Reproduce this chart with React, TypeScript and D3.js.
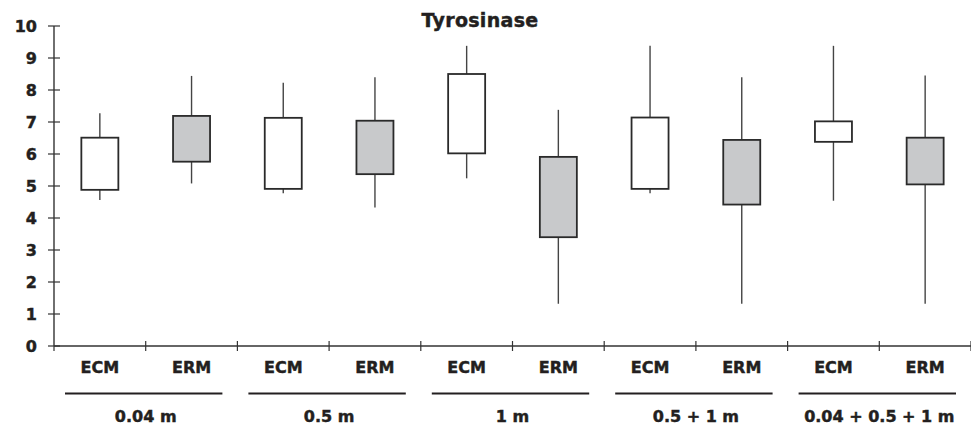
import React from "react";
import * as d3 from "d3";

const groups = ["0.04 m", "0.5 m", "1 m", "0.5 + 1 m", "0.04 + 0.5 + 1 m"];
const types = ["ECM", "ERM"];
const whiskerLow = [4.56, 5.08, 4.77, 4.33, 5.24, 1.32, 4.77, 1.32, 4.54, 1.32];
const boxLow = [4.88, 5.76, 4.91, 5.37, 6.02, 3.4, 4.91, 4.42, 6.38, 5.05];
const boxHigh = [6.51, 7.19, 7.13, 7.04, 8.5, 5.91, 7.14, 6.44, 7.02, 6.51];
const whiskerHigh = [7.27, 8.44, 8.23, 8.4, 9.38, 7.38, 9.38, 8.4, 9.38, 8.45];
const yTicks = [0, 1, 2, 3, 4, 5, 6, 7, 8, 9, 10];

const W = 971;
const H = 427;
const left = 54;
const right = 971;
const top = 26;
const bottom = 346;
const textColor = "#231f20";
const font = "'DejaVu Sans', Verdana, sans-serif";
const textStyle = { stroke: textColor, strokeWidth: 0.45 } as const;

export default function App() {
  const cats: string[] = [];
  groups.forEach((g, gi) => types.forEach((t) => cats.push(`${gi}-${t}`)));
  const x = d3.scaleBand<string>().domain(cats).range([left, right]);
  const y = d3.scaleLinear().domain([0, 10]).range([bottom, top]);
  const bw = 37;

  return (
    <svg width={W} height={H} style={{ position: "absolute", left: 0, top: 0, background: "#fff" }}>
      <text x={480} y={27} textAnchor="middle" fontFamily={font} fontWeight="bold" fontSize={19} fill={textColor} letterSpacing={0.3} style={textStyle}>
        Tyrosinase
      </text>
      {/* y axis */}
      <line x1={left} x2={left} y1={y(10)} y2={y(0)} stroke="#333" strokeWidth={1.4} />
      {yTicks.map((t) => (
        <g key={t}>
          <line x1={left - 6} x2={left + 6} y1={y(t)} y2={y(t)} stroke="#333" strokeWidth={1.2} />
          <text x={37} y={y(t)} dy="0.36em" textAnchor="end" fontFamily={font} fontWeight="bold" fontSize={16} fill={textColor} style={textStyle}>
            {t}
          </text>
        </g>
      ))}
      {/* x axis */}
      <line x1={left} x2={right} y1={y(0)} y2={y(0)} stroke="#333" strokeWidth={1.4} />
      {cats.map((c, i) => (
        <line key={"t" + i} x1={(x(c) as number) + x.bandwidth()} x2={(x(c) as number) + x.bandwidth()} y1={y(0) - 5} y2={y(0) + 5} stroke="#333" strokeWidth={1.2} />
      ))}
      <line x1={left} x2={left} y1={y(0)} y2={y(0) + 5} stroke="#333" strokeWidth={1.2} />
      {cats.map((c, i) => (
        <text key={"l" + i} x={(x(c) as number) + x.bandwidth() / 2} y={367} dy="0.36em" textAnchor="middle" fontFamily={font} fontWeight="bold" fontSize={16} fill={textColor} style={textStyle}>
          {types[i % 2]}
        </text>
      ))}
      {groups.map((g, gi) => {
        const x0 = x(`${gi}-ECM`) as number;
        const x1 = (x(`${gi}-ERM`) as number) + x.bandwidth();
        return (
          <g key={g}>
            <line x1={x0 + 11} x2={x1 - 15} y1={393.5} y2={393.5} stroke="#231f20" strokeWidth={2} />
            <text x={(x0 + x1) / 2} y={416} dy="0.36em" textAnchor="middle" fontFamily={font} fontWeight="bold" fontSize={16} fill={textColor} style={textStyle}>
              {g}
            </text>
          </g>
        );
      })}
      {/* boxes */}
      {cats.map((c, i) => {
        const cx = (x(c) as number) + x.bandwidth() / 2;
        return (
          <g key={"b" + i}>
            <line x1={cx} x2={cx} y1={y(whiskerHigh[i])} y2={y(whiskerLow[i])} stroke="#444" strokeWidth={1.4} />
            <rect
              x={cx - bw / 2}
              y={y(boxHigh[i])}
              width={bw}
              height={y(boxLow[i]) - y(boxHigh[i])}
              fill={i % 2 === 0 ? "#ffffff" : "#c8c9cb"}
              stroke="#2a2a2a"
              strokeWidth={1.8}
            />
          </g>
        );
      })}
    </svg>
  );
}
